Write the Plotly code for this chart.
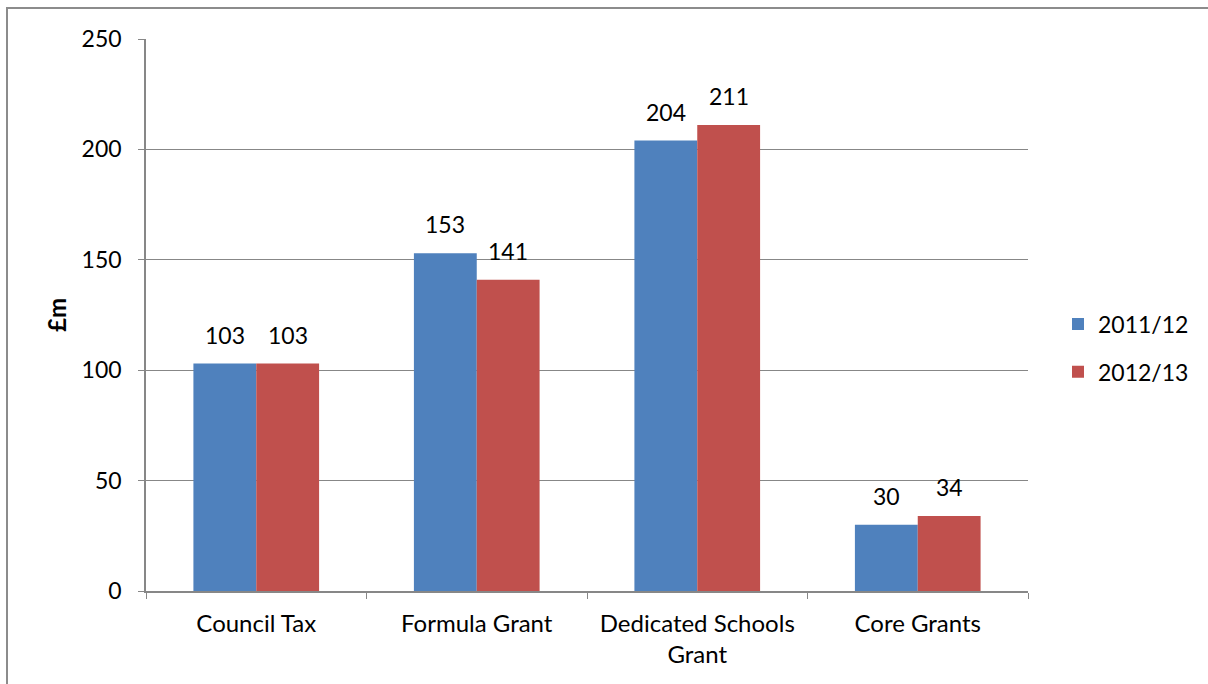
import plotly.graph_objects as go

categories = ["Council Tax", "Formula Grant", "Dedicated Schools<br>Grant", "Core Grants"]
series_names = ["2011/12", "2012/13"]
values_2011 = [103, 153, 204, 30]
values_2012 = [103, 141, 211, 34]
y_ticks = [0, 50, 100, 150, 200, 250]

colors = ["#4F81BD", "#C0504D"]
font_family = "Lato, 'Open Sans', sans-serif"
grid_color = "#878787"

# plot area in pixels
W, H = 1208, 684
L, R, T, B = 146, 180, 39, 93
pw, ph = W - L - R, H - T - B

fig = go.Figure()
for i, (name, vals) in enumerate(zip(series_names, [values_2011, values_2012])):
    fig.add_trace(go.Bar(
        x=categories, y=vals, name=name,
        marker=dict(color=colors[i], line=dict(width=0)),
        legendgroup=name,
    ))

# value labels above each bar
bargap = 0.43
bar_px = pw / len(categories) * (1 - bargap) / 2
annotations = []
for i, vals in enumerate([values_2011, values_2012]):
    shift = (i - 0.5) * bar_px
    for c, v in zip(categories, vals):
        annotations.append(dict(
            x=c, y=v, xref="x", yref="y", text=str(v), showarrow=False,
            xshift=shift, yshift=13, yanchor="bottom",
            font=dict(family=font_family, size=23, color="black"),
        ))

# y-axis title
annotations.append(dict(
    x=(56 - L) / pw, y=(H - B - 315) / ph, xref="paper", yref="paper",
    xanchor="center", yanchor="middle",
    text="<b>£m</b>", textangle=-90, showarrow=False,
    font=dict(family=font_family, size=24, color="black"),
))

# outer frame (left and top edges visible)
shapes = [dict(
    type="rect", xref="paper", yref="paper",
    x0=(7 - L) / pw, x1=(W + 20 - L) / pw,
    y0=(H - B - (H + 20)) / ph, y1=(H - B - 8) / ph,
    line=dict(color="#8c8c8c", width=2), fillcolor="rgba(0,0,0,0)", layer="below",
)]

fig.update_layout(
    width=W, height=H,
    margin=dict(l=L, r=R, t=T, b=B, pad=0),
    paper_bgcolor="white", plot_bgcolor="white",
    barmode="group", bargap=bargap, bargroupgap=0,
    font=dict(family=font_family, size=24, color="black"),
    showlegend=True,
    legend=dict(
        x=(1058 - L) / pw, y=(H - B - 348) / ph, xanchor="left", yanchor="middle",
        font=dict(family=font_family, size=23, color="black"),
        traceorder="grouped", tracegroupgap=15, itemwidth=30,
        bgcolor="rgba(0,0,0,0)",
    ),
    annotations=annotations,
    shapes=shapes,
    xaxis=dict(
        showgrid=False, showline=True, linecolor=grid_color, linewidth=1.5,
        ticks="outside", ticklen=6, tickcolor=grid_color, tickson="boundaries",
        tickfont=dict(family=font_family, size=24, color="black"),
        ticklabelstandoff=10,
        fixedrange=True,
    ),
    yaxis=dict(
        range=[0, 250], tickvals=y_ticks,
        showgrid=True, gridcolor=grid_color, gridwidth=1,
        showline=True, linecolor=grid_color, linewidth=1.5,
        ticks="outside", ticklen=6, tickcolor=grid_color,
        tickfont=dict(family=font_family, size=23, color="black"),
        ticklabelstandoff=12,
        zeroline=False, fixedrange=True,
    ),
)

fig.write_html("out.html")
